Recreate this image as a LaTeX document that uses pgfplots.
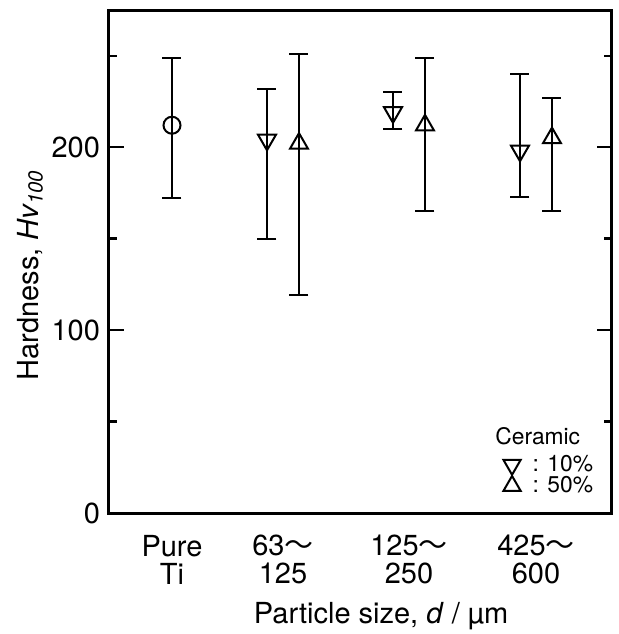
\documentclass[border=0pt]{standalone}
\usepackage{pgfplots}
\pgfplotsset{compat=1.18}
\usepackage{pgfplotstable}
\usepackage{fontspec}
\setmainfont{TeX Gyre Heros}
\newfontfamily\cjk{Noto Sans CJK JP}
\usetikzlibrary{calc}

% x in pixel units of the reference (offset from the left axis line)
\pgfplotstableread{
x   y   ep  em
63  212 37  40
}\pure
\pgfplotstableread{
x   y   ep  em
158 204 28  54
284 219 11  9
411 198 42  25
}\tenpct
\pgfplotstableread{
x   y   ep  em
190 202 49  83
316 212 37  47
443 205 22  40
}\fiftypct

\newcommand{\wave}{{\cjk ～}}
\newcommand{\mainfs}{\fontsize{14.5}{14}\selectfont}

\begin{document}
\begin{tikzpicture}
  \begin{axis}[
    name=ax,
    scale only axis,
    width=251.5pt, height=251.5pt,
    xmin=0, xmax=503, ymin=0, ymax=275,
    axis line style={line width=1.5pt},
    every tick/.style={black, line width=1.2pt},
    tick align=inside,
    ytick={0,100,200},
    minor ytick={50,150,250},
    major tick length=7.5pt,
    minor tick length=4pt,
    ytick pos=both, yticklabel pos=left,
    xtick={63,174,300,427},
    xticklabels={{Pure\\Ti},{63\wave\\125},{125\wave\\250},{425\wave\\600}},
    major x tick style={draw=none},
    xtick pos=bottom,
    xticklabel style={align=center, font=\mainfs, yshift=-7.5pt},
    yticklabel style={font=\mainfs, xshift=-1pt},
    /pgf/number format/assume math mode=true,
    xlabel={Particle size, \textit{d} / µm},
    ylabel={Hardness, \textit{Hv\textsubscript{100}}},
    label style={font=\mainfs},
    xlabel style={at={(ticklabel cs:0.541)}, yshift=-2pt},
    ylabel style={at={(ticklabel cs:0.473)}, yshift=-2.5pt},
    legend style={draw=none, fill=none, font=\fontsize{11.4}{11}\selectfont,
      at={(axis cs:394,34)}, anchor=north west,
      row sep=-3pt, column sep=4pt, inner sep=0pt},
    legend cell align=left,
    error bars/error bar style={draw=black, line width=1pt},
    error bars/error mark options={draw=black, rotate=90, mark size=4.75pt, line width=1pt},
  ]
    % error bars first, markers on top
    \addplot[draw=none, mark=none, forget plot,
      error bars/.cd, y dir=both, y explicit]
      table[x=x, y=y, y error plus=ep, y error minus=em] {\pure};
    \addplot[draw=none, mark=none, forget plot,
      error bars/.cd, y dir=both, y explicit]
      table[x=x, y=y, y error plus=ep, y error minus=em] {\tenpct};
    \addplot[draw=none, mark=none, forget plot,
      error bars/.cd, y dir=both, y explicit]
      table[x=x, y=y, y error plus=ep, y error minus=em] {\fiftypct};

    \addplot[black, only marks, mark=o, mark size=4.25pt, line width=1pt,
      mark options={fill=white}, forget plot]
      table[x=x, y=y] {\pure};
    \addplot[black, only marks, mark=triangle, mark size=5.2pt, line width=1pt,
      mark options={fill=white, rotate=180},
      legend image post style={mark size=5pt}]
      table[x=x, y=y] {\tenpct};
    \addlegendentry{: 10\%}
    \addplot[black, only marks, mark=triangle, mark size=5.2pt, line width=1pt,
      mark options={fill=white},
      legend image post style={mark size=5pt}]
      table[x=x, y=y] {\fiftypct};
    \addlegendentry{: 50\%}
    \node[anchor=west, font=\fontsize{11.4}{11}\selectfont, inner sep=0pt]
      at (axis cs:386,42) {Ceramic};
  \end{axis}
  \pgfresetboundingbox
  \path[use as bounding box] ($(ax.south west)+(-54.5pt,-60.5pt)$)
    rectangle ($(ax.south west)+(254.5pt,256.5pt)$);
\end{tikzpicture}
\end{document}
